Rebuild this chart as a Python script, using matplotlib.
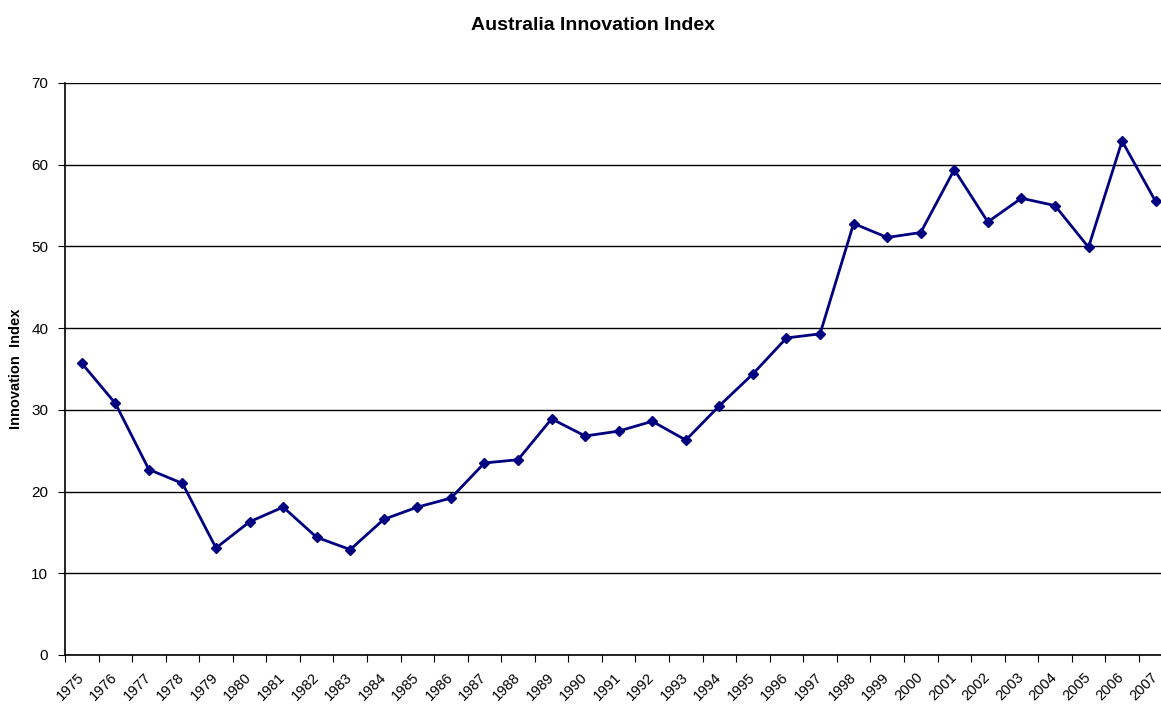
import matplotlib
matplotlib.use("Agg")
import numpy as np
import matplotlib.pyplot as plt
import matplotlib.transforms as mtransforms

plt.rcParams['font.family'] = ['Liberation Sans', 'DejaVu Sans']

years = [str(y) for y in range(1975, 2008)]
index_vals = [35.7, 30.8, 22.7, 21.0, 13.1, 16.3, 18.1, 14.4, 12.9, 16.6,
              18.1, 19.2, 23.5, 23.9, 28.9, 26.8, 27.4, 28.6, 26.3, 30.5,
              34.4, 38.8, 39.3, 52.8, 51.1, 51.7, 59.4, 53.0, 55.9, 55.0,
              49.9, 62.9, 55.5]
yticks = [0, 10, 20, 30, 40, 50, 60, 70]

fig = plt.figure(figsize=(11.61, 7.04), dpi=100)
ax = fig.add_axes([65/1161, 1-655/704, 1-65/1161, (655-83)/704])

x = np.arange(len(years))
ax.plot(x, index_vals, color='#000080', lw=2, marker='D', ms=5.5, zorder=3)

ax.set_yticks(yticks)
ax.yaxis.grid(True, color='black', lw=1)
ax.set_axisbelow(True)
ax.tick_params(axis='y', direction='out', length=5, labelsize=11, pad=7, color='black')

# category boundaries as major ticks, labels at centres
ax.set_xticks(np.arange(-0.5, len(years), 1))
ax.set_xticklabels([])
ax.tick_params(axis='x', which='major', direction='out', length=5)
ax.set_xticks(x, minor=True)
ax.set_xticklabels(years, minor=True, rotation=45, ha='right', rotation_mode='anchor', fontsize=10.5)
ax.tick_params(axis='x', which='minor', length=0, pad=11)
shift = mtransforms.ScaledTranslation(-5/100, 0, fig.dpi_scale_trans)
for lab in ax.get_xticklabels(minor=True):
    lab.set_transform(lab.get_transform() + shift)

# plot area is cut at the right edge of the picture
ax.set_ylim(0, 70)
ax.set_xlim(-0.5, 32.16)

for s in ['top', 'right']:
    ax.spines[s].set_visible(False)
ax.spines['left'].set_linewidth(1.2)
ax.spines['bottom'].set_linewidth(1.2)

ax.set_ylabel('Innovation  Index', fontsize=10.5, fontweight='bold', labelpad=6)
fig.suptitle('Australia Innovation Index', x=593/1161, y=1-25/704, va='center',
             fontsize=14, fontweight='bold')

fig.savefig('out.png', dpi=100)
